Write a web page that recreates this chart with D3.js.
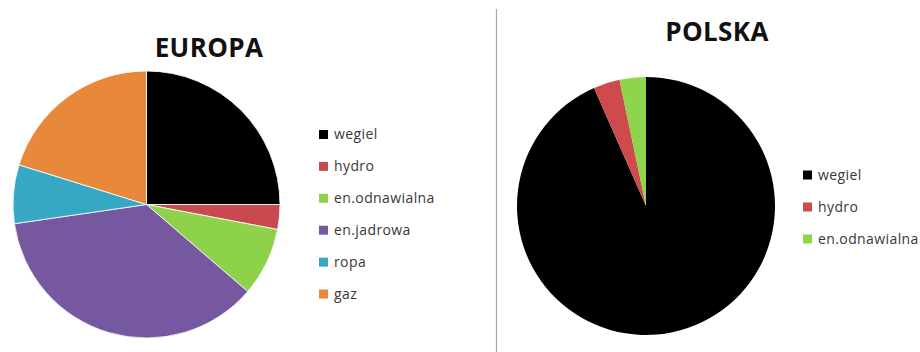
<!DOCTYPE html>
<html>
<head>
<meta charset="utf-8">
<script src="https://cdn.jsdelivr.net/npm/d3@7"></script>
<style>
  html, body { margin: 0; padding: 0; background: #fff; }
  svg { display: block; }
</style>
</head>
<body>
<svg id="chart" width="920" height="352"></svg>
<script>
// ---- data ----
const europaLabels = ["wegiel", "hydro", "en.odnawialna", "en.jadrowa", "ropa", "gaz"];
const europaValues = [25, 3, 8.3, 36.4, 7.1, 20.2];
const europaColors = ["#000000", "#c94a4e", "#8ed24b", "#7658a0", "#37a8c4", "#e8883b"];

const polskaLabels = ["wegiel", "hydro", "en.odnawialna"];
const polskaValues = [93.4, 3.3, 3.3];
const polskaColors = ["#000000", "#cf4a4c", "#8ed44c"];

const titles = ["EUROPA", "POLSKA"];

// ---- drawing ----
const svg = d3.select("#chart");

function drawPie(cfg) {
  const g = svg.append("g").attr("transform", `translate(${cfg.cx},${cfg.cy})`);
  const pie = d3.pie().sort(null).value(d => d.v).startAngle(0).endAngle(2 * Math.PI);
  const arc = d3.arc().innerRadius(0).outerRadius(cfg.r);
  const data = cfg.labels.map((l, i) => ({ l, v: cfg.values[i], c: cfg.colors[i] }));
  g.selectAll("path").data(pie(data)).join("path")
    .attr("d", arc)
    .attr("fill", d => d.data.c)
    .attr("stroke", cfg.stroke)
    .attr("stroke-width", cfg.strokeWidth);

  svg.append("text")
    .attr("x", cfg.titleX).attr("y", cfg.titleY)
    .attr("text-anchor", "middle")
    .attr("font-family", "'Open Sans', sans-serif")
    .attr("font-weight", "bold")
    .attr("font-size", 26)
    .attr("letter-spacing", 0.4)
    .attr("fill", "#111")
    .text(cfg.title);

  const y = d3.scalePoint().domain(cfg.labels).range([cfg.legY0, cfg.legY0 + cfg.legStep * (cfg.labels.length - 1)]);
  const lg = svg.append("g");
  const items = lg.selectAll("g").data(data).join("g")
    .attr("transform", d => `translate(${cfg.legX},${y(d.l)})`);
  items.append("rect").attr("x", 0).attr("y", -4.5).attr("width", 9).attr("height", 9).attr("fill", d => d.c);
  items.append("text").attr("x", 15).attr("y", 0).attr("dy", "0.35em")
    .attr("font-family", "'Open Sans', sans-serif")
    .attr("font-size", 14)
    .attr("letter-spacing", 0.4)
    .attr("fill", "#383838")
    .text(d => d.l);
}

drawPie({
  cx: 146.5, cy: 204.5, r: 133.5,
  labels: europaLabels, values: europaValues, colors: europaColors,
  stroke: "#fff", strokeWidth: 0.8,
  title: titles[0], titleX: 209, titleY: 57,
  legX: 319, legY0: 134.5, legStep: 31.9
});

drawPie({
  cx: 646, cy: 206, r: 129,
  labels: polskaLabels, values: polskaValues, colors: polskaColors,
  stroke: "none", strokeWidth: 0,
  title: titles[1], titleX: 717, titleY: 41,
  legX: 803, legY0: 175, legStep: 32
});

// divider
svg.append("line")
  .attr("x1", 496.5).attr("x2", 496.5).attr("y1", 9).attr("y2", 352)
  .attr("stroke", "#a8a8a8").attr("stroke-width", 1.2);
</script>
</body>
</html>
